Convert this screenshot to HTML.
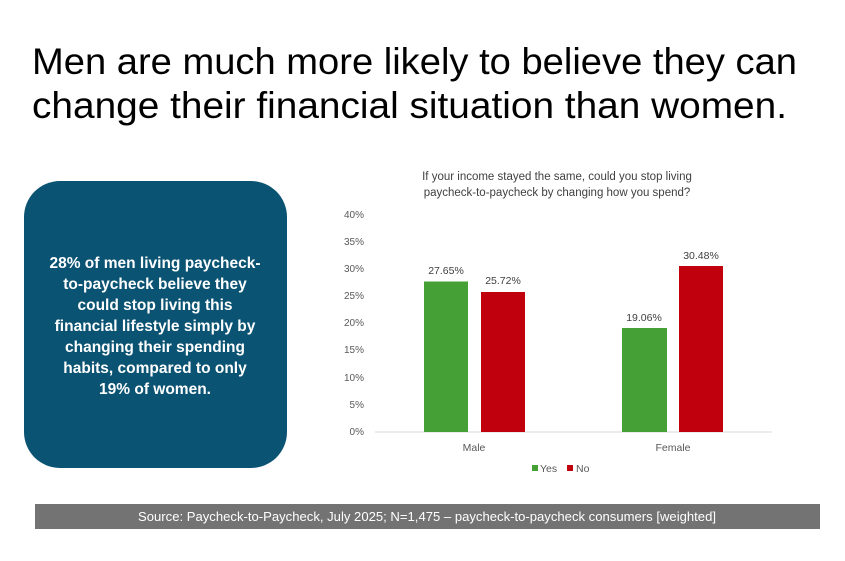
<!DOCTYPE html>
<html><head><meta charset="utf-8"><style>html,body{margin:0;padding:0;background:#fff}svg{display:block}</style></head>
<body>
<svg width="845" height="561" viewBox="0 0 845 561" xmlns="http://www.w3.org/2000/svg" font-family="Liberation Sans, sans-serif">
<rect width="845" height="561" fill="#fff"/>
<text x="32" y="74" font-size="37" fill="#000" textLength="765" lengthAdjust="spacingAndGlyphs">Men are much more likely to believe they can</text>
<text x="32" y="118" font-size="37" fill="#000" textLength="755" lengthAdjust="spacingAndGlyphs">change their financial situation than women.</text>
<rect x="24" y="181" width="263" height="287" rx="36" ry="36" fill="#0b5373"/>
<g fill="#fff" font-size="15.5" font-weight="bold" text-anchor="middle">
<text x="155" y="268">28% of men living paycheck-</text>
<text x="155" y="289">to-paycheck believe they</text>
<text x="155" y="310">could stop living this</text>
<text x="155" y="331">financial lifestyle simply by</text>
<text x="155" y="352">changing their spending</text>
<text x="155" y="373">habits, compared to only</text>
<text x="155" y="394">19% of women.</text>
</g>
<g fill="#404040" font-size="11.5" text-anchor="middle">
<text x="557" y="180">If your income stayed the same, could you stop living</text>
<text x="557" y="196">paycheck-to-paycheck by changing how you spend?</text>
</g>
<g fill="#595959" font-size="10" text-anchor="end">
<text x="364" y="218">40%</text><text x="364" y="245">35%</text><text x="364" y="272">30%</text><text x="364" y="299">25%</text><text x="364" y="326">20%</text><text x="364" y="353">15%</text><text x="364" y="381">10%</text><text x="364" y="408">5%</text><text x="364" y="435">0%</text>
</g>
<line x1="375" y1="432" x2="772" y2="432" stroke="#d9d9d9" stroke-width="1"/>
<rect x="424" y="281.5" width="44" height="150.5" fill="#45a035"/>
<rect x="481" y="292" width="44" height="140" fill="#c0000d"/>
<rect x="622" y="328" width="45" height="104" fill="#45a035"/>
<rect x="679" y="266" width="44" height="166" fill="#c0000d"/>
<g fill="#404040" font-size="10.5" text-anchor="middle">
<text x="446" y="274">27.65%</text><text x="503" y="284">25.72%</text><text x="644" y="321">19.06%</text><text x="701" y="259">30.48%</text>
</g>
<g fill="#595959" font-size="10.5" text-anchor="middle">
<text x="474" y="451">Male</text><text x="673" y="451">Female</text>
</g>
<rect x="532" y="465" width="6" height="6" fill="#45a035"/>
<text x="540" y="472" font-size="10.5" fill="#595959">Yes</text>
<rect x="567" y="465" width="6" height="6" fill="#c0000d"/>
<text x="576" y="472" font-size="10.5" fill="#595959">No</text>
<rect x="35" y="504" width="785" height="25" fill="#737373"/>
<text x="138" y="521" font-size="12.5" fill="#fff" textLength="578" lengthAdjust="spacingAndGlyphs">Source: Paycheck-to-Paycheck, July 2025; N=1,475  – paycheck-to-paycheck consumers [weighted]</text>
</svg>
</body></html>
